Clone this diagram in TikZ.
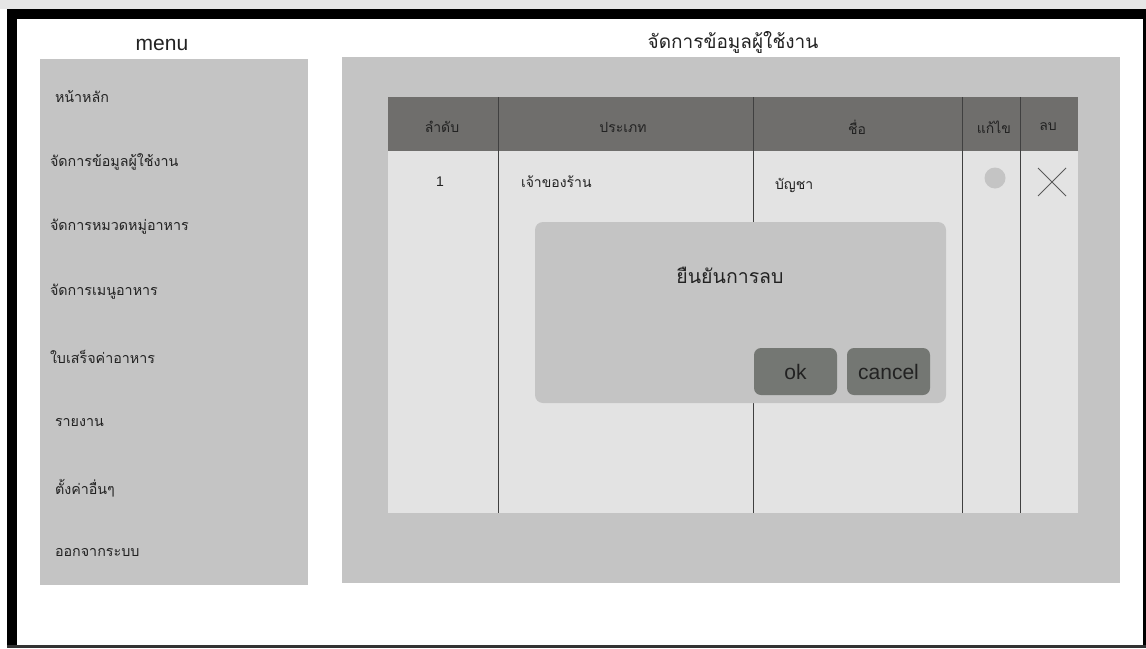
\documentclass[tikz,border=0pt]{standalone}
\usepackage{fontspec}
\setmainfont{Liberation Sans}
\newfontfamily\thaifont[Script=Thai]{Loma}
\definecolor{gray-panel}{RGB}{196,196,196}
\definecolor{gray-head}{RGB}{111,110,108}
\definecolor{gray-body}{RGB}{227,227,227}
\definecolor{gray-btn}{RGB}{116,119,115}
\definecolor{gray-strip}{RGB}{230,230,230}
\definecolor{ink}{RGB}{34,34,34}
\usetikzlibrary{
  positioning   % texts placed relative to the boxes
}
\tikzset{
  every node/.style = {
    inner sep = 0pt,
    outer sep = 0pt,
    text = ink
  },
  box/.style = {rectangle, anchor=north west, draw=none},
  panel/.append style = {box, fill = gray-panel},
  headrow/.append style = {box, fill = gray-head},
  bodyrow/.append style = {box, fill = gray-body},
  dialogbox/.append style = {box, fill = gray-panel, rounded corners=8pt},
  button/.append style = {rectangle, fill = gray-btn, rounded corners=7pt,
    minimum width=83pt, minimum height=47pt, font=\fontsize{21}{25}\selectfont},
  latintitle/.append style = {font=\fontsize{21}{25}\selectfont},
  thaititle/.append style = {font=\thaifont\fontsize{19}{23}\selectfont},
  menuitem/.append style = {anchor=west, font=\thaifont\fontsize{14.3}{17}\selectfont},
  headtext/.append style = {font=\thaifont\fontsize{14}{17}\selectfont},
  celltext/.append style = {font=\thaifont\fontsize{14}{17}\selectfont},
  colline/.append style = {draw=black!75, line width=0.9pt},
  crossline/.append style = {draw=black!65, line width=1pt}
}

\begin{document}
\begin{tikzpicture}[x=1pt, y=-1pt]
\useasboundingbox (0,0) rectangle (1146,648);

% screen frame
\fill[gray-strip] (0,0) rectangle (1146,9);
\fill[black] (7,9) rectangle (1146,19);
\fill[black] (7,9) rectangle (17,648);
\fill[black] (1143,9) rectangle (1146,648);
\fill[black!80] (7,645) rectangle (1146,648);

% menu
\node[latintitle] (menutitle) at (162,45) {menu};
\node[panel, minimum width=268pt, minimum height=526pt] (menupanel) at (40,59) {};
\foreach \x/\y/\item [count=\i] in {
    55/97/หน้าหลัก,
    50/162/จัดการข้อมูลผู้ใช้งาน,
    50/227/จัดการหมวดหมู่อาหาร,
    50/292/จัดการเมนูอาหาร,
    50/357/ใบเสร็จค่าอาหาร,
    55/423/รายงาน,
    55/488/ตั้งค่าอื่นๆ,
    55/553/ออกจากระบบ}
  \node[menuitem] (item\i) at (\x,\y) {\item};

% content
\node[thaititle] (pagetitle) at (733,42) {จัดการข้อมูลผู้ใช้งาน};
\node[panel, minimum width=778pt, minimum height=526pt] (mainpanel) at (342,57) {};
\node[headrow, minimum width=690pt, minimum height=54pt] (thead) at (388,97) {};
\node[bodyrow, minimum width=690pt, minimum height=362pt] (tbody) at (388,151) {};
\foreach \x in {498,753,962,1020}
  \draw[colline] (\x,97) -- (\x,513);

\node[headtext] (hno) at (442,127) {ลำดับ};
\node[headtext] (htype) at (623,127) {ประเภท};
\node[headtext] (hname) at (857,127) {ชื่อ};
\node[headtext] (hedit) at (994,127) {แก้ไข};
\node[headtext] (hdel) at (1048,127) {ลบ};

\node[font=\fontsize{14}{17}\selectfont] (rno) at (440,182) {1};
\node[celltext, anchor=west] (rtype) at (521,182) {เจ้าของร้าน};
\node[celltext, anchor=west] (rname) at (775,185) {บัญชา};
\fill[gray-panel] (995,178) circle (10.5);
\draw[crossline] (1038,168) -- (1066,196);
\draw[crossline] (1066,168) -- (1038,196);

% confirm dialog
\node[dialogbox, minimum width=411pt, minimum height=181pt] (dialog) at (535,222) {};
\node[font=\thaifont\fontsize{19.5}{23}\selectfont] (question) at (730,275) {ยืนยันการลบ};
\node[button] (ok) at (795.5,371.5) {ok};
\node[button, right=10pt of ok] (cancel) {cancel};
\end{tikzpicture}
\end{document}
